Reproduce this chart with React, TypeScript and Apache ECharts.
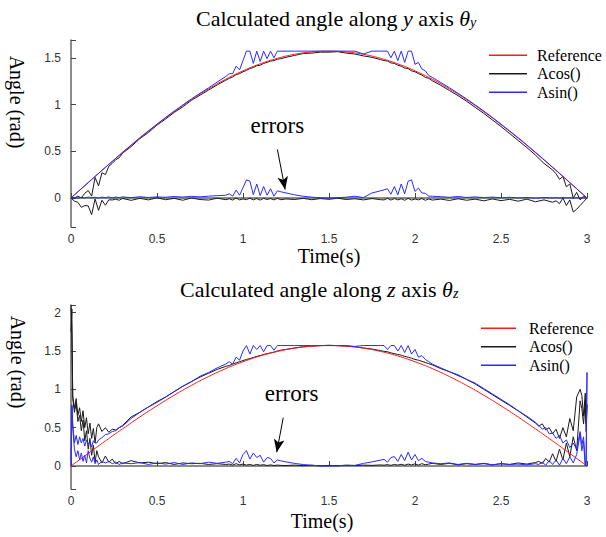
import React, { useEffect, useRef } from "react";
import * as echarts from "echarts";

// ---------- Data ----------
const refTime = [0, 0.1, 0.2, 0.3, 0.4, 0.5, 0.6, 0.7, 0.8, 0.9, 1.0, 1.1, 1.2, 1.3, 1.4, 1.5, 1.6, 1.7, 1.8, 1.9, 2.0, 2.1, 2.2, 2.3, 2.4, 2.5, 2.6, 2.7, 2.8, 2.9, 3.0];
const refAngle = [0, 0.164, 0.327, 0.485, 0.639, 0.785, 0.923, 1.051, 1.167, 1.271, 1.36, 1.435, 1.494, 1.537, 1.562, 1.571, 1.562, 1.537, 1.494, 1.435, 1.36, 1.271, 1.167, 1.051, 0.923, 0.785, 0.639, 0.485, 0.327, 0.164, 0];

// top plot (theta_y)
const timeY = [0, 0.02, 0.04, 0.06, 0.08, 0.1, 0.12, 0.14, 0.16, 0.18, 0.2, 0.22, 0.24, 0.26, 0.28, 0.3,
  0.35, 0.4, 0.45, 0.5, 0.55, 0.6, 0.65, 0.7, 0.75, 0.8, 0.85, 0.9,
  0.92, 0.94, 0.96, 0.98, 1.0, 1.02, 1.04, 1.06, 1.08, 1.1, 1.12, 1.14, 1.16, 1.18, 1.2, 1.22,
  1.25, 1.3, 1.35, 1.4, 1.45, 1.5, 1.55, 1.6, 1.65, 1.7, 1.75, 1.8,
  1.82, 1.84, 1.86, 1.88, 1.9, 1.92, 1.94, 1.96, 1.98, 2.0, 2.02, 2.04, 2.06, 2.08, 2.1,
  2.15, 2.2, 2.25, 2.3, 2.35, 2.4, 2.45, 2.5, 2.55, 2.6, 2.65, 2.7, 2.75, 2.8,
  2.82, 2.84, 2.86, 2.88, 2.9, 2.92, 2.94, 2.96, 2.98, 3.0];
const acosY = [0, 0.0, 0.02, 0.0, 0.05, 0.08, 0.02, 0.22, 0.13, 0.27, 0.25, 0.34, 0.37, 0.41, 0.43, 0.48,
  0.55, 0.635, 0.7, 0.78, 0.845, 0.915, 0.975, 1.045, 1.1, 1.155, 1.21, 1.26,
  1.28, 1.295, 1.32, 1.33, 1.35, 1.365, 1.385, 1.395, 1.415, 1.42, 1.44, 1.45, 1.465, 1.47, 1.485, 1.49,
  1.505, 1.525, 1.545, 1.55, 1.56, 1.56, 1.565, 1.55, 1.54, 1.52, 1.505, 1.48,
  1.47, 1.465, 1.445, 1.44, 1.42, 1.41, 1.39, 1.385, 1.36, 1.35, 1.33, 1.315, 1.29, 1.28, 1.255,
  1.205, 1.15, 1.095, 1.035, 0.97, 0.905, 0.835, 0.765, 0.69, 0.615, 0.54, 0.46, 0.37, 0.3,
  0.26, 0.2, 0.23, 0.12, 0.15, 0.0, 0.06, -0.02, 0.02, 0];
const acosErrY = [0, -0.033, -0.046, -0.099, -0.081, -0.084, -0.177, -0.01, -0.132, -0.024, -0.077, -0.019, -0.021, -0.012, -0.024, -0.005,
  -0.025, -0.003, -0.02, 0.002, -0.018, -0.004, -0.024, 0.0, -0.016, -0.022, -0.002, -0.018,
  -0.008, -0.022, 0.0, -0.02, -0.01, -0.018, -0.002, -0.02, -0.006, -0.022, -0.004, -0.016, -0.006, -0.02, -0.004, -0.018,
  -0.01, -0.016, -0.004, -0.018, -0.006, -0.014, -0.002, -0.016, -0.008, -0.02, -0.006, -0.018,
  -0.02, -0.004, -0.022, -0.006, -0.02, -0.008, -0.024, -0.004, -0.022, -0.01, -0.02, -0.006, -0.024, -0.01, -0.022,
  -0.012, -0.026, -0.008, -0.024, -0.012, -0.03, -0.01, -0.028, -0.014, -0.034, -0.012, -0.04, -0.02, -0.045,
  -0.03, -0.06, 0.0, -0.08, -0.02, -0.15, -0.12, -0.08, -0.04, 0];
const asinY = [0, 0.035, 0.067, 0.1, 0.133, 0.166, 0.198, 0.232, 0.263, 0.297, 0.328, 0.362, 0.392, 0.425, 0.456, 0.49,
  0.566, 0.645, 0.718, 0.79, 0.862, 0.93, 0.995, 1.06, 1.12, 1.178, 1.24, 1.3,
  1.33, 1.33, 1.41, 1.37, 1.47, 1.571, 1.571, 1.44, 1.571, 1.46, 1.571, 1.49, 1.571, 1.5, 1.571, 1.571,
  1.571, 1.571, 1.571, 1.571, 1.571, 1.571, 1.571, 1.571, 1.571, 1.54, 1.571, 1.571,
  1.571, 1.571, 1.5, 1.571, 1.47, 1.571, 1.45, 1.571, 1.571, 1.43, 1.45, 1.38, 1.36, 1.31, 1.29,
  1.235, 1.18, 1.12, 1.06, 0.995, 0.93, 0.862, 0.79, 0.718, 0.644, 0.568, 0.49, 0.41, 0.33,
  0.297, 0.265, 0.232, 0.2, 0.166, 0.133, 0.1, 0.067, 0.034, 0];
const asinErrY = [0, 0.006, -0.002, 0.008, 0.0, 0.01, 0.002, 0.008, -0.002, 0.01, 0.003, 0.012, 0.0, 0.01, 0.004, 0.012,
  0.004, 0.014, 0.006, 0.012, 0.008, 0.016, 0.01, 0.018, 0.012, 0.02, 0.025, 0.03,
  0.045, 0.02, 0.085, 0.03, 0.11, 0.194, 0.18, 0.035, 0.15, 0.025, 0.123, 0.03, 0.099, 0.02, 0.077, 0.067,
  0.054, 0.034, 0.019, 0.009, 0.002, 0.0, 0.002, 0.009, 0.019, 0.005, 0.054, 0.077,
  0.087, 0.099, 0.04, 0.123, 0.035, 0.15, 0.045, 0.179, 0.194, 0.07, 0.106, 0.054, 0.05, 0.02, 0.019,
  0.014, 0.008, 0.016, 0.006, 0.012, 0.004, 0.01, 0.002, 0.008, 0.0, 0.006, -0.002, 0.005, 0.0,
  0.004, -0.002, 0.005, 0.0, 0.004, -0.002, 0.003, 0.0, 0.002, 0];

// bottom plot (theta_z)
const timeZ = [0, 0.005, 0.01, 0.02, 0.03, 0.04, 0.05, 0.06, 0.07, 0.08, 0.09, 0.1, 0.11, 0.12, 0.13, 0.14, 0.15, 0.16, 0.18, 0.2, 0.22, 0.24, 0.26, 0.28, 0.3,
  0.35, 0.4, 0.45, 0.5, 0.55, 0.6, 0.65, 0.7, 0.75, 0.8, 0.85, 0.9,
  0.92, 0.94, 0.96, 0.98, 1.0, 1.02, 1.04, 1.06, 1.08, 1.1, 1.12, 1.14, 1.16, 1.18, 1.2, 1.22,
  1.25, 1.3, 1.35, 1.4, 1.45, 1.5, 1.55, 1.6, 1.65, 1.7, 1.75, 1.8,
  1.82, 1.84, 1.86, 1.88, 1.9, 1.92, 1.94, 1.96, 1.98, 2.0, 2.02, 2.04, 2.06, 2.08, 2.1,
  2.15, 2.2, 2.25, 2.3, 2.35, 2.4, 2.45, 2.5, 2.55, 2.6, 2.65, 2.7,
  2.72, 2.74, 2.76, 2.78, 2.8, 2.82, 2.84, 2.86, 2.88, 2.9, 2.92, 2.94, 2.96, 2.97, 2.98, 2.99, 2.995, 3.0];
const acosZ = [2.1, 1.7, 0.92, 0.75, 0.88, 0.66, 0.76, 0.58, 0.72, 0.5, 0.63, 0.42, 0.56, 0.36, 0.49, 0.3, 0.5, 0.55, 0.45, 0.5, 0.44, 0.48, 0.47, 0.5, 0.53,
  0.64, 0.7, 0.77, 0.84, 0.9, 0.97, 1.04, 1.1, 1.16, 1.21, 1.26, 1.3,
  1.31, 1.33, 1.345, 1.36, 1.375, 1.39, 1.4, 1.415, 1.43, 1.44, 1.455, 1.465, 1.475, 1.485, 1.5, 1.51,
  1.52, 1.54, 1.555, 1.565, 1.57, 1.575, 1.57, 1.565, 1.555, 1.54, 1.525, 1.505,
  1.495, 1.49, 1.475, 1.465, 1.455, 1.445, 1.43, 1.42, 1.405, 1.39, 1.38, 1.365, 1.35, 1.335, 1.32,
  1.27, 1.23, 1.18, 1.13, 1.07, 1.0, 0.93, 0.86, 0.79, 0.72, 0.64, 0.56,
  0.52, 0.55, 0.47, 0.5, 0.42, 0.48, 0.36, 0.5, 0.38, 0.62, 0.46, 0.9, 1.0, 0.92, 0.65, 0.95, 0.55, 0.8];
const acosErrZ = [1.75, 2.05, 0.88, 0.7, 0.82, 0.58, 0.66, 0.46, 0.6, 0.33, 0.46, 0.22, 0.36, 0.14, 0.27, 0.05, 0.2, 0.12, 0.04, 0.13, 0.05, 0.09, 0.03, 0.06, 0.03,
  0.07, 0.04, 0.05, 0.03, 0.045, 0.02, 0.04, 0.03, 0.035, 0.02, 0.03, 0.02,
  0.025, 0.012, 0.03, 0.015, 0.025, 0.012, 0.02, 0.008, 0.02, 0.01, 0.018, 0.006, 0.015, 0.006, 0.012, 0.008,
  0.006, 0.012, 0.004, 0.01, 0.002, 0.008, 0.004, 0.01, 0.006, 0.012, 0.008, 0.014,
  0.01, 0.018, 0.008, 0.02, 0.012, 0.022, 0.01, 0.025, 0.014, 0.028, 0.012, 0.03, 0.016, 0.025, 0.035,
  0.02, 0.035, 0.015, 0.03, 0.02, 0.035, 0.015, 0.03, 0.02, 0.04, 0.025, 0.045,
  0.06, 0.03, 0.1, 0.05, 0.16, 0.06, 0.22, 0.08, 0.3, 0.12, 0.38, 0.2, 0.85, 0.75, 0.55, 0.85, 0.45, 0.8];
const asinZ = [0.05, 0.8, 0.55, 0.3, 0.4, 0.28, 0.38, 0.3, 0.36, 0.26, 0.34, 0.28, 0.32, 0.25, 0.33, 0.3, 0.3, 0.34, 0.37, 0.41, 0.42, 0.45, 0.46, 0.5, 0.52,
  0.62, 0.7, 0.77, 0.83, 0.9, 0.97, 1.04, 1.1, 1.17, 1.22, 1.28, 1.33,
  1.36, 1.33, 1.42, 1.38, 1.5, 1.571, 1.46, 1.571, 1.52, 1.571, 1.49, 1.571, 1.571, 1.51, 1.571, 1.571,
  1.571, 1.571, 1.571, 1.571, 1.571, 1.571, 1.571, 1.571, 1.56, 1.571, 1.571, 1.571,
  1.571, 1.52, 1.571, 1.571, 1.5, 1.571, 1.48, 1.571, 1.46, 1.52, 1.42, 1.44, 1.39, 1.36, 1.33,
  1.28, 1.23, 1.19, 1.13, 1.08, 1.01, 0.94, 0.87, 0.8, 0.72, 0.65, 0.57,
  0.53, 0.48, 0.5, 0.42, 0.43, 0.36, 0.4, 0.3, 0.34, 0.24, 0.3, 0.22, 0.45, 0.28, 0.38, 0.02, 0.0, 1.22];
const asinErrZ = [0.0, 0.78, 0.5, 0.22, 0.12, 0.2, 0.08, 0.17, 0.06, 0.14, 0.04, 0.2, 0.1, 0.05, 0.12, 0.03, 0.08, 0.02, 0.06, 0.04, 0.06, 0.03, 0.05, 0.02, 0.04,
  0.03, 0.045, 0.02, 0.04, 0.025, 0.045, 0.02, 0.04, 0.03, 0.05, 0.035, 0.05,
  0.06, 0.03, 0.1, 0.04, 0.15, 0.2, 0.09, 0.17, 0.11, 0.14, 0.05, 0.11, 0.1, 0.04, 0.08, 0.067,
  0.054, 0.034, 0.019, 0.009, 0.002, 0.0, 0.002, 0.009, 0.008, 0.034, 0.054, 0.077,
  0.087, 0.05, 0.11, 0.123, 0.06, 0.15, 0.07, 0.18, 0.08, 0.15, 0.07, 0.1, 0.06, 0.05, 0.04,
  0.03, 0.04, 0.02, 0.035, 0.02, 0.03, 0.015, 0.03, 0.02, 0.025, 0.015, 0.03,
  0.02, 0.05, 0.01, 0.07, 0.02, 0.08, 0.01, 0.1, 0.03, 0.12, 0.04, 0.15, 0.42, 0.2, 0.32, 0.0, 0.05, 1.22];

const seriesNames = ["Reference", "Acos()", "Asin()"];
const yRangeTop = [-0.31, 1.69];
const yRangeBottom = [-0.3, 2.1];
// annotation anchors (data coordinates): [text, arrow tail, arrow tip]
const noteTop = [[1.2, 0.78], [1.2, 0.52], [1.245, 0.09]];
const noteBottom = [[1.282, 0.94], [1.234, 0.63], [1.196, 0.18]];

const SERIF = '"Liberation Serif", "Times New Roman", serif';
const SANS = '"Liberation Sans", Arial, sans-serif';
const RED = "#ff1a1a";
const BLACK = "#1a1a1a";
const BLUE = "#2a2aff";

function pairs(t: number[], v: number[]) {
  return t.map((x, i) => [x, v[i]]);
}

export default function App() {
  const ref = useRef<HTMLDivElement>(null);
  useEffect(() => {
    const chart = echarts.init(ref.current!, null, { renderer: "svg" });

    const xAxis = (gi: number, nameGap: number, pad: number[]) => ({
      gridIndex: gi,
      type: "value",
      min: 0,
      max: 3,
      interval: 0.5,
      name: "Time(s)",
      nameLocation: "middle",
      nameGap,
      nameTextStyle: { fontFamily: SERIF, fontSize: 20, color: "#000", padding: pad },
      axisLine: { show: true, lineStyle: { color: "#666", width: 1.5 } },
      axisTick: { show: true, inside: true, length: 5, lineStyle: { color: "#444", width: 1 } },
      axisLabel: { color: "#333", fontFamily: SANS, fontSize: 12, margin: 6 },
      splitLine: { show: false },
    });
    const yAxis = (gi: number, range: number[]) => ({
      gridIndex: gi,
      type: "value",
      min: range[0],
      max: range[1],
      splitNumber: 4,
      axisLine: { show: true, lineStyle: { color: "#666", width: 1.5 } },
      axisTick: { show: true, inside: true, length: 5, lineStyle: { color: "#444", width: 1 } },
      axisLabel: {
        color: "#333",
        fontFamily: SANS,
        fontSize: 12,
        margin: 10,
        formatter: (v: number) => (Math.abs(v * 2 - Math.round(v * 2)) < 1e-6 ? String(v) : ""),
      },
      splitLine: { show: false },
    });

    const line = (name: string, color: string, gi: number, data: number[][], z: number, extra: any = {}) => ({
      type: "line",
      name,
      xAxisIndex: gi,
      yAxisIndex: gi,
      data,
      symbol: "none",
      showSymbol: false,
      color,
      lineStyle: { color, width: 1 },
      itemStyle: { color },
      z,
      silent: true,
      ...extra,
    });

    const annotate = (note: number[][]) => ({
      markLine: {
        silent: true,
        symbol: ["none", "arrow"],
        symbolSize: [8, 13],
        lineStyle: { color: "#000", width: 1, type: "solid" },
        label: { show: false },
        data: [[{ coord: note[1] }, { coord: note[2] }]],
      },
      markPoint: {
        silent: true,
        symbol: "circle",
        symbolSize: 1,
        itemStyle: { color: "rgba(0,0,0,0)" },
        label: { show: true, position: "inside", formatter: "errors", fontFamily: SERIF, fontSize: 23, color: "#000" },
        data: [{ coord: note[0] }],
      },
    });

    const legend = (left: number, top: number, w: number, padL: number) => ({
      left,
      top,
      orient: "vertical",
      icon: "rect",
      itemWidth: w,
      itemHeight: 1.5,
      itemGap: 0,
      selectedMode: false,
      data: seriesNames,
      textStyle: { fontFamily: SERIF, fontSize: 16, color: "#000", lineHeight: 18.5, padding: [0, 0, 0, padL] },
    });

    const titleText = (x: number, y: number, axis: string) => ({
      type: "text",
      x,
      y,
      silent: true,
      style: {
        text: `Calculated angle along {i|${axis}} axis {i|θ}{s|${axis}}`,
        fontFamily: SERIF,
        fontSize: 22,
        fill: "#000",
        align: "left",
        verticalAlign: "middle",
        rich: {
          i: { fontFamily: SERIF, fontSize: 22, fontStyle: "italic", fill: "#000" },
          s: { fontFamily: SERIF, fontSize: 14, fontStyle: "italic", fill: "#000", verticalAlign: "bottom", lineHeight: 12 },
        },
      },
    });
    const yName = (x: number, y: number) => ({
      type: "text",
      x,
      y,
      rotation: -Math.PI / 2,
      silent: true,
      style: {
        text: "Angle (rad)",
        fontFamily: SERIF,
        fontSize: 20,
        fill: "#000",
        align: "center",
        verticalAlign: "middle",
      },
    });

    const option: any = {
      animation: false,
      backgroundColor: "#fff",
      grid: [
        { left: 71, top: 40, width: 516, height: 187, containLabel: false },
        { left: 71, top: 305, width: 516, height: 184, containLabel: false },
      ],
      xAxis: [xAxis(0, 19, [0, 0, 0, 0]), xAxis(1, 22, [0, 14, 0, 0])],
      yAxis: [yAxis(0, yRangeTop), yAxis(1, yRangeBottom)],
      legend: [legend(484, 41, 38, 5), legend(476, 314, 35, 8)],
      graphic: [titleText(196, 18, "y"), titleText(180, 289, "z"), yName(17, 102), yName(18, 362)],
      series: [
        line("Acos()", BLACK, 0, pairs(timeY, acosY), 2),
        line("Acos()", BLACK, 0, pairs(timeY, acosErrY), 2, annotate(noteTop)),
        line("Reference", RED, 0, pairs(refTime, refAngle), 3, { smooth: true }),
        line("Asin()", BLUE, 0, pairs(timeY, asinY), 4),
        line("Asin()", BLUE, 0, pairs(timeY, asinErrY), 4),
        line("Acos()", BLACK, 1, pairs(timeZ, acosZ), 2),
        line("Acos()", BLACK, 1, pairs(timeZ, acosErrZ), 2, annotate(noteBottom)),
        line("Reference", RED, 1, pairs(refTime, refAngle), 3, { smooth: true }),
        line("Asin()", BLUE, 1, pairs(timeZ, asinZ), 4),
        line("Asin()", BLUE, 1, pairs(timeZ, asinErrZ), 4),
      ],
    };
    chart.setOption(option);
    return () => chart.dispose();
  }, []);
  return <div ref={ref} style={{ position: "absolute", left: 0, top: 0, width: 606, height: 537 }} />;
}
